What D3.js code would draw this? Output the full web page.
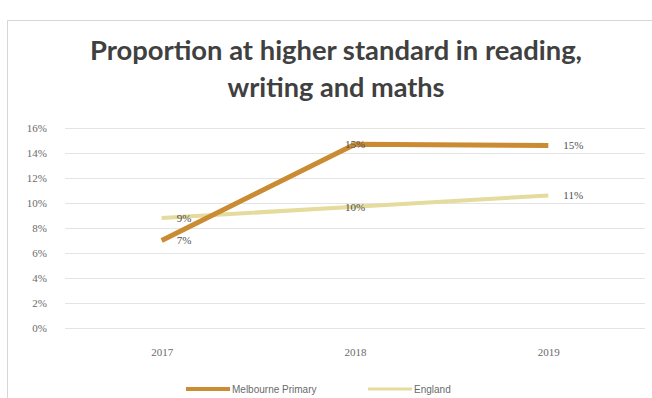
<!DOCTYPE html>
<html>
<head>
<meta charset="utf-8">
<script src="https://cdn.jsdelivr.net/npm/d3@7"></script>
<style>
  html, body { margin: 0; padding: 0; background: #fff; }
  svg { display: block; }
</style>
</head>
<body>
<div id="chart"></div>
<script>
// Data
const years = ["2017", "2018", "2019"];
const melbourne = [0.07, 0.147, 0.146];
const england = [0.088, 0.097, 0.106];
const yTicks = [0, 0.02, 0.04, 0.06, 0.08, 0.10, 0.12, 0.14, 0.16];
const seriesNames = ["Melbourne Primary", "England"];
const titleLines = ["Proportion at higher standard in reading,", "writing and maths"];

const W = 652, H = 398;
const margin = { top: 128, right: 7, bottom: 70, left: 65 };

const svg = d3.select("#chart").append("svg")
  .attr("width", W).attr("height", H);

// chart frame
svg.append("path")
  .attr("d", `M7.5,${H} L7.5,20.5 L${W},20.5`)
  .attr("fill", "none").attr("stroke", "#d6d6d6").attr("stroke-width", 1);

// title
const titleWidths = [492, 217];
svg.append("g").selectAll("text").data(titleLines).join("text")
  .attr("x", 336).attr("y", (d, i) => 60 + i * 37)
  .attr("text-anchor", "middle")
  .attr("font-family", "Lato, 'Open Sans', sans-serif")
  .attr("font-weight", "bold").attr("font-size", 26)
  .attr("textLength", (d, i) => titleWidths[i])
  .attr("lengthAdjust", "spacingAndGlyphs")
  .attr("fill", "#404040")
  .text(d => d);

const x = d3.scalePoint().domain(years)
  .range([margin.left, W - margin.right]).padding(0.5);
const y = d3.scaleLinear().domain([0, 0.16])
  .range([H - margin.bottom, margin.top]);

// gridlines
svg.append("g").selectAll("line").data(yTicks).join("line")
  .attr("x1", margin.left).attr("x2", W - margin.right)
  .attr("y1", d => Math.round(y(d)) + 0.5).attr("y2", d => Math.round(y(d)) + 0.5)
  .attr("stroke", "#e4e4e4").attr("stroke-width", 1);

// y axis
const yAxis = svg.append("g")
  .attr("transform", `translate(${margin.left - 18},0)`)
  .call(d3.axisLeft(y).tickValues(yTicks).tickFormat(d3.format(".0%")).tickSize(0).tickPadding(0));
yAxis.select(".domain").remove();
yAxis.selectAll("text")
  .attr("font-family", "'Liberation Serif', serif").attr("font-size", 11)
  .attr("fill", "#6a6a6a");

// x axis
const xAxis = svg.append("g")
  .attr("transform", `translate(0,${H - margin.bottom})`)
  .call(d3.axisBottom(x).tickSize(0).tickPadding(20));
xAxis.select(".domain").remove();
xAxis.selectAll("text")
  .attr("font-family", "'Liberation Serif', serif").attr("font-size", 11)
  .attr("fill", "#6a6a6a");

const line = d3.line().x((d, i) => x(years[i])).y(d => y(d));

const series = [
  { name: seriesNames[0], values: melbourne, color: "#cb8b33", width: 5 },
  { name: seriesNames[1], values: england, color: "#e5db9c", width: 4 }
];

// lines (England underneath)
svg.append("g").selectAll("path").data(series.slice().reverse()).join("path")
  .attr("d", d => line(d.values))
  .attr("fill", "none")
  .attr("stroke", d => d.color)
  .attr("stroke-width", d => d.width)
  .attr("stroke-linejoin", "round");

// data labels
const fmt = d3.format(".0%");
const labelGroup = svg.append("g")
  .attr("font-family", "'Liberation Serif', serif").attr("font-size", 11)
  .attr("fill", "#505050");
series.forEach(s => {
  s.values.forEach((v, i) => {
    const centered = i === 1;
    labelGroup.append("text")
      .attr("x", x(years[i]) + (centered ? 0 : 15))
      .attr("y", y(v))
      .attr("dy", "0.35em")
      .attr("text-anchor", centered ? "middle" : "start")
      .text(fmt(v));
  });
});

// legend
const legend = svg.append("g").attr("transform", `translate(0,${H - 9})`)
  .attr("font-family", "'Liberation Sans', sans-serif").attr("font-size", 10)
  .attr("fill", "#6a6a6a");
const legendX = [186, 368];
series.forEach((s, i) => {
  legend.append("line")
    .attr("x1", legendX[i]).attr("x2", legendX[i] + 44)
    .attr("y1", 0).attr("y2", 0)
    .attr("stroke", s.color).attr("stroke-width", s.width - 1);
  legend.append("text")
    .attr("x", legendX[i] + 46).attr("y", 0).attr("dy", "0.35em")
    .text(s.name);
});
</script>
</body>
</html>
